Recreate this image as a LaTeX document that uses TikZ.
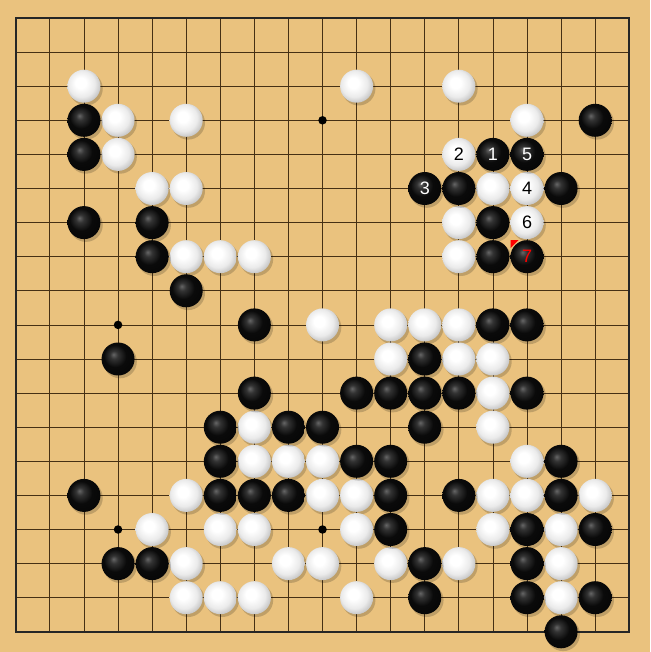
\documentclass[tikz,border=0pt]{standalone}
\usepackage{fontspec}
\setmainfont{Liberation Sans}
\usetikzlibrary{calc}
\definecolor{wood}{RGB}{234,194,126}
\definecolor{gridc}{RGB}{70,48,20}
\pgfdeclareradialshading{wstoneshade}{\pgfpoint{-6bp}{6bp}}{color(0bp)=(white); color(8bp)=(white); color(20bp)=(white!92!black); color(30bp)=(white!74!black); color(50bp)=(white!74!black)}
\pgfdeclareradialshading{bstoneshade}{\pgfpoint{-7bp}{7bp}}{color(0bp)=(black!60); color(6bp)=(black!80); color(17bp)=(black!96); color(50bp)=(black)}
\tikzset{
  stonebase/.style={circle, minimum size=33pt, inner sep=0pt, font=\fontsize{18}{18}\selectfont},
  wstone/.style={stonebase, shading=wstoneshade, text=black},
  bstone/.style={stonebase, shading=bstoneshade, text=white},
  gridline/.style={draw=gridc, line width=0.8pt},
  borderline/.style={draw=black!85, line width=1.8pt},
  hoshi/.style={circle, fill=black, minimum size=8.5pt, inner sep=0pt},
  stoneshadow/.style={fill=black, opacity=0.18}
}
\newcommand{\gx}[1]{15.8+#1*34.08}
\newcommand{\gy}[1]{18+#1*34.1}
\begin{document}
\begin{tikzpicture}[x=1pt,y=-1pt]
\useasboundingbox (0,0) rectangle (650,652);
\fill[wood] (0,0) rectangle (650,652);
% grid
\foreach \i in {1,...,17}{
  \draw[gridline] ({\gx{\i}},{\gy{0}}) -- ({\gx{\i}},{\gy{18}});
  \draw[gridline] ({\gx{0}},{\gy{\i}}) -- ({\gx{18}},{\gy{\i}});
}
\draw[borderline] ({\gx{0}},{\gy{0}}) rectangle ({\gx{18}},{\gy{18}});
% star points
\foreach \c/\r in {3/3,9/3,15/3,3/9,9/9,15/9,3/15,9/15,15/15}
  \node[hoshi] (h\c-\r) at ({\gx{\c}},{\gy{\r}}) {};
% white stones
\foreach \c/\r in {2/2,10/2,13/2,3/3,5/3,15/3,3/4,4/5,5/5,14/5,13/6,5/7,6/7,7/7,13/7,
  9/9,11/9,12/9,13/9,11/10,13/10,14/10,14/11,14/12,7/12,7/13,8/13,9/13,15/13,
  5/14,9/14,10/14,14/14,15/14,17/14,4/15,6/15,7/15,10/15,14/15,16/15,
  5/16,8/16,9/16,11/16,13/16,16/16,5/17,6/17,7/17,10/17,16/17}{
  \fill[stoneshadow] ({\gx{\c}+2},{\gy{\r}+2.5}) circle (16.8pt);
  \node[wstone] (w\c-\r) at ({\gx{\c}},{\gy{\r}}) {};
}
% black stones
\foreach \c/\r in {2/3,17/3,2/4,13/5,16/5,2/6,4/6,14/6,4/7,14/7,5/8,
  7/9,14/9,15/9,3/10,12/10,7/11,10/11,11/11,12/11,13/11,15/11,
  6/12,8/12,9/12,12/12,6/13,10/13,11/13,16/13,2/14,6/14,7/14,8/14,11/14,13/14,16/14,
  11/15,15/15,17/15,3/16,4/16,12/16,15/16,12/17,15/17,17/17,16/18}{
  \fill[stoneshadow] ({\gx{\c}+2},{\gy{\r}+2.5}) circle (16.8pt);
  \node[bstone] (b\c-\r) at ({\gx{\c}},{\gy{\r}}) {};
}
% numbered stones
\foreach \c/\r/\t/\k in {14/4/1/b,13/4/2/w,12/5/3/b,15/5/4/w,15/4/5/b,15/6/6/w}{
  \fill[stoneshadow] ({\gx{\c}+2},{\gy{\r}+2.5}) circle (16.8pt);
  \node[\k stone] (n\t) at ({\gx{\c}},{\gy{\r}}) {\t};
}
\fill[stoneshadow] ({\gx{15}+2},{\gy{7}+2.5}) circle (16.8pt);
\node[bstone, text=red] (n7) at ({\gx{15}},{\gy{7}}) {7};
\fill[red] ($(n7.center)+(-16.5,-16.5)$) -- ++(8,0) -- ++(-8,8) -- cycle;
\end{tikzpicture}
\end{document}
